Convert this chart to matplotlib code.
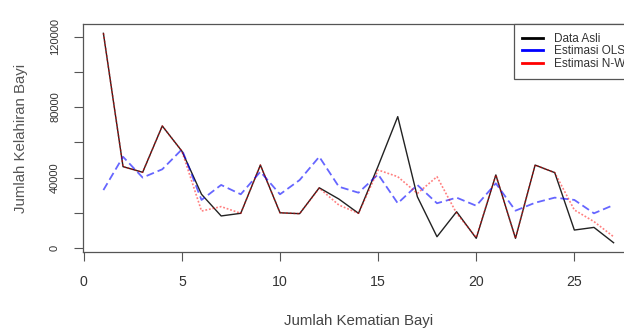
import matplotlib
matplotlib.use("Agg")
import matplotlib.pyplot as plt
from matplotlib.lines import Line2D

plt.rcParams['font.family'] = ['Liberation Sans', 'DejaVu Sans']

# nomor observasi (sumbu x)
kematian = list(range(1, 28))

# nilai
data_asli = [121900, 46200, 43000, 69300, 55000, 30500, 18200, 19700, 47100, 20000,
             19500, 34200, 27800, 19700, 46500, 74600, 29100, 6400, 20600, 5500,
             41500, 5500, 47100, 42800, 10200, 11700, 3000]
est_ols = [32900, 51800, 40000, 44700, 56000, 27300, 35800, 30500, 43300, 30500,
           38600, 51800, 34800, 31400, 41800, 25400, 35800, 25400, 28600, 24000,
           36700, 21200, 25700, 28600, 27300, 19700, 24400]
est_nw = [121900, 46200, 43000, 69300, 55000, 21000, 23500, 19700, 47100, 20000,
          19500, 34000, 24400, 19700, 44300, 40500, 31000, 40500, 19700, 6000,
          41500, 5500, 47100, 42800, 21600, 15000, 6400]

xticks = [0, 5, 10, 15, 20, 25]
yticks = [0, 20000, 40000, 60000, 80000, 100000, 120000]
ytick_labels = ["0", "", "40000", "", "80000", "", "120000"]
legend_labels = ["Data Asli", "Estimasi OLS", "Estimasi N-W"]

W, H = 624, 329
fig = plt.figure(figsize=(W / 100, H / 100), dpi=100)
# axes box runs a bit past the right edge, like the cropped original
ax = fig.add_axes([83 / W, 77 / H, 551 / W, 228 / H])

ax.plot(kematian, data_asli, color="#222222", lw=1.0)
l_ols, = ax.plot(kematian, est_ols, color="blue", alpha=0.6, lw=1.3)
l_ols.set_dashes((4.4, 2.2))
l_nw, = ax.plot(kematian, est_nw, color="red", alpha=0.5, lw=1.2)
l_nw.set_dashes((1.1, 1.1))

ax.set_xlim(-0.04, 28.04)
ax.set_ylim(-2270, 127200)

ax.set_xticks(xticks)
ax.set_xticklabels([str(t) for t in xticks], fontsize=10.2, color="#333333")
ax.set_yticks(yticks)
ax.set_yticklabels(ytick_labels, fontsize=8, color="#333333",
                   rotation=90, va="center", ha="right")
ax.tick_params(axis="both", length=6.5, width=0.8, color="#555555", pad=10)

for s in ax.spines.values():
    s.set_color("#555555")
    s.set_linewidth(0.9)

fig.text(21 / W, 1 - 138 / H, "Jumlah Kelahiran Bayi", rotation=90,
         ha="center", va="center", fontsize=10.8, color="#555555")
fig.text(358.5 / W, 1 - 321 / H, "Jumlah Kematian Bayi",
         ha="center", va="center", fontsize=10.8, color="#444444")

handles = [Line2D([], [], color="black", lw=2),
           Line2D([], [], color="blue", lw=2),
           Line2D([], [], color="red", lw=2)]
leg = ax.legend(handles, legend_labels, loc="upper right", fontsize=8.5,
                borderaxespad=0, borderpad=0.75, labelspacing=0.05,
                handlelength=1.75, handletextpad=0.9, fancybox=False,
                framealpha=1, edgecolor="#555555")
leg.get_frame().set_linewidth(0.9)
for t in leg.get_texts():
    t.set_color("#333333")

fig.savefig("out.png", dpi=100)
